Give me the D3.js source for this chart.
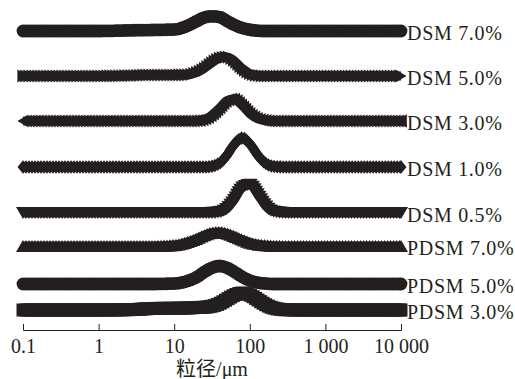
<!DOCTYPE html>
<html>
<head>
<meta charset="utf-8">
<script src="https://cdn.jsdelivr.net/npm/d3@7"></script>
<style>
  body { margin: 0; background: #fff; }
  svg text { font-family: "Liberation Serif", "Times New Roman", "Noto Sans CJK SC", serif; fill: #231f20; }
</style>
</head>
<body>
<div id="chart"></div>
<script>
// particle size bins (um)
const sizes = [0.1, 0.3, 1, 3, 5, 10, 15, 20, 25, 30, 40, 50, 60, 80, 100, 130, 160, 200, 300, 500, 1000, 3000, 10000];

// frequency (%) for each bin
const dsm70  = [0, 0, 0, 0.3, 0.4, 0.6, 2.1, 4.0, 5.4, 5.9, 5.6, 4.0, 2.7, 1.2, 0.5, 0.1, 0, 0, 0, 0, 0, 0, 0];
const dsm50  = [0, 0, 0, 0.2, 0.4, 0.4, 0.5, 1.4, 3.0, 4.8, 7.1, 7.6, 6.5, 3.0, 1.0, 0.2, 0, 0, 0, 0, 0, 0, 0];
const dsm30  = [0, 0, 0, 0, 0, 0, 0, 0.15, 0.7, 1.9, 5.3, 8.2, 8.8, 6.0, 2.9, 0.8, 0.2, 0, 0, 0, 0, 0, 0];
const dsm10  = [0, 0, 0, 0, 0, 0, 0, 0, 0, 0.2, 1.6, 4.8, 8.4, 11.6, 9.3, 4.4, 1.6, 0.3, 0, 0, 0, 0, 0];
const dsm05  = [0, 0, 0, 0, 0, 0, 0, 0, 0, 0, 0.35, 1.8, 4.6, 10.2, 11.3, 7.0, 3.0, 0.7, 0, 0, 0, 0, 0];
const pdsm70 = [0, 0, 0, 0, 0, 0.4, 1.6, 3.0, 4.3, 5.2, 5.6, 5.0, 4.1, 2.5, 1.4, 0.6, 0.3, 0.1, 0, 0, 0, 0, 0];
const pdsm50 = [0, 0, 0, 0, 0, 0.2, 1.2, 2.8, 4.8, 6.2, 7.2, 6.5, 5.2, 2.8, 1.4, 0.5, 0.2, 0, 0, 0, 0, 0, 0];
const pdsm30 = [0, 0, 0, 0.2, 0.6, 0.7, 0.8, 1.0, 1.1, 1.4, 2.6, 4.3, 5.7, 6.8, 6.0, 3.9, 2.2, 0.9, 0.1, 0, 0, 0, 0];

const seriesNames = ['DSM 7.0%', 'DSM 5.0%', 'DSM 3.0%', 'DSM 1.0%', 'DSM 0.5%', 'PDSM 7.0%', 'PDSM 5.0%', 'PDSM 3.0%'];
const seriesValues = [dsm70, dsm50, dsm30, dsm10, dsm05, pdsm70, pdsm50, pdsm30];
// stacking offset of each curve (same units as the values)
const seriesOffsets = [111.6, 93.6, 75.6, 57.2, 38.8, 25.6, 10.4, 0];

const tickValues = [0.1, 1, 10, 100, 1000, 10000];
const tickLabels = ['0.1', '1', '10', '100', '1 000', '10 000'];
const axisTitle = '粒径/μm';

// style
const ink = '#231f20';
const markerTypes = ['circle', 'right', 'left', 'diamond', 'down', 'up', 'circle', 'square'];

const width = 515, height = 379;

const svg = d3.select('#chart').append('svg')
    .attr('width', width)
    .attr('height', height);

const xScale = d3.scaleLog().domain([0.1, 10000]).range([23, 401]);
const yScale = d3.scaleLinear().domain([0, 124]).range([310, 0]);

const line = d3.line()
    .x(d => xScale(d.size))
    .y(d => yScale(d.value))
    .curve(d3.curveMonotoneX);

// marker shapes, centred on their bounding box
function markerPath(type) {
    const p = d3.path();
    if (type === 'circle') {
        p.moveTo(6.4, 0);
        p.arc(0, 0, 6.4, 0, 2 * Math.PI);
        return p.toString();
    }
    let pts;
    if (type === 'square') pts = [[-6.5, -6.5], [6.5, -6.5], [6.5, 6.5], [-6.5, 6.5]];
    if (type === 'diamond') pts = [[0, -6.8], [5.5, 0], [0, 6.8], [-5.5, 0]];
    if (type === 'up') pts = [[0, -6.1], [7, 6.1], [-7, 6.1]];
    if (type === 'down') pts = [[0, 6.1], [7, -6.1], [-7, -6.1]];
    if (type === 'right') pts = [[5.6, 0], [-5.6, -6.6], [-5.6, 6.6]];
    if (type === 'left') pts = [[-5.6, 0], [5.6, -6.6], [5.6, 6.6]];
    p.moveTo(pts[0][0], pts[0][1]);
    pts.slice(1).forEach(q => p.lineTo(q[0], q[1]));
    p.closePath();
    return p.toString();
}

const curves = svg.append('g').attr('class', 'curves');

seriesValues.forEach((values, i) => {

    const points = sizes.map((s, j) => ({ size: s, value: seriesOffsets[i] + values[j] }));
    const g = curves.append('g').attr('class', 'series');

    const path = g.append('path')
        .datum(points)
        .attr('fill', 'none')
        .attr('stroke', ink)
        .attr('stroke-width', 9)
        .attr('d', line);

    // markers placed densely along the drawn line
    const node = path.node();
    const total = node.getTotalLength();
    const along = [];
    for (let l = 0; l < total; l += 3) along.push(node.getPointAtLength(l));
    along.push(node.getPointAtLength(total));

    const shape = markerPath(markerTypes[i]);
    g.selectAll('.marker')
        .data(along)
        .join('path')
        .attr('class', 'marker')
        .attr('d', shape)
        .attr('fill', ink)
        .attr('transform', p => `translate(${p.x},${p.y})`);

    // series label at the right end
    svg.append('text')
        .attr('x', 407)
        .attr('y', yScale(seriesOffsets[i]) + 9)
        .attr('font-size', 20)
        .attr('letter-spacing', 0.7)
        .text(seriesNames[i]);
});

// x axis
const xAxis = d3.axisBottom(xScale)
    .tickValues(tickValues)
    .tickFormat((d, i) => tickLabels[i])
    .tickSizeInner(-6)
    .tickSizeOuter(-6);

const axisGroup = svg.append('g')
    .attr('transform', 'translate(0,330)')
    .call(xAxis);

axisGroup.select('.domain').attr('stroke', ink);
axisGroup.selectAll('.tick line').attr('stroke', ink);
axisGroup.selectAll('.tick text')
    .attr('y', 23)
    .attr('dy', null)
    .attr('font-size', 20)
    .attr('font-family', '"Liberation Serif", serif')
    .attr('fill', ink);

svg.append('text')
    .attr('x', 212)
    .attr('y', 376)
    .attr('text-anchor', 'middle')
    .attr('font-size', 20)
    .text(axisTitle);
</script>
</body>
</html>
